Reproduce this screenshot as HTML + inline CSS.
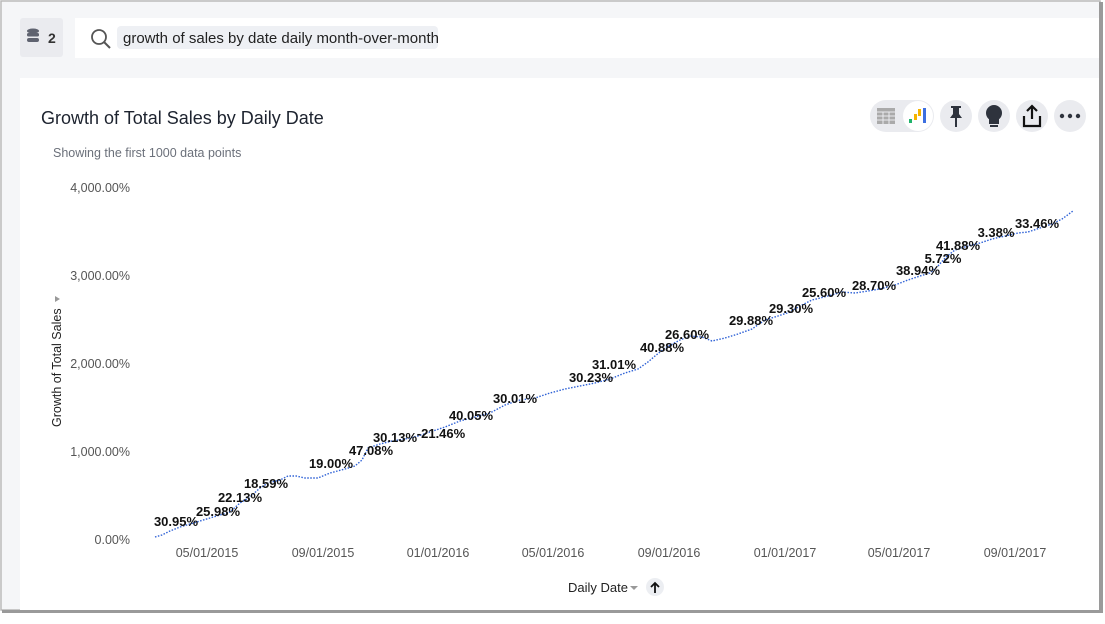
<!DOCTYPE html>
<html><head><meta charset="utf-8">
<style>
html,body{margin:0;padding:0;background:#fff;}
body{width:1105px;height:619px;overflow:hidden;font-family:"Liberation Sans",sans-serif;}
</style></head>
<body>
<svg width="1105" height="619" viewBox="0 0 1105 619" xmlns="http://www.w3.org/2000/svg" font-family="Liberation Sans, sans-serif">
<rect x="0" y="0" width="1105" height="619" fill="#fff"/>
<rect x="2" y="2" width="1097" height="608" fill="#f5f6f8"/>
<rect x="1" y="1" width="1099" height="609" fill="none" stroke="#b8b8b8" stroke-width="1.5"/>
<rect x="1099" y="2" width="4" height="611" fill="#9a9a9a"/>
<rect x="2" y="610" width="1101" height="3" fill="#9a9a9a"/>
<rect x="20" y="18" width="43" height="39" rx="3" fill="#eaebef"/>
<g fill="#5f6370">
<ellipse cx="33" cy="31" rx="6" ry="2.5"/>
<rect x="27" y="33" width="12" height="3.5" rx="1.5"/>
<rect x="27" y="38" width="12" height="4" rx="2"/>
</g>
<text x="48" y="43" font-size="14" font-weight="bold" fill="#333">2</text>
<rect x="75" y="18" width="1024" height="40" fill="#fff"/>
<circle cx="99" cy="37" r="7" fill="none" stroke="#555" stroke-width="1.8"/>
<line x1="104" y1="42" x2="110" y2="48" stroke="#555" stroke-width="2"/>
<rect x="117" y="26" width="321" height="23" rx="4" fill="#eef0f4"/>
<text x="123" y="43" font-size="15" fill="#222">growth of sales by date daily month-over-month</text>
<rect x="20" y="78" width="1079" height="532" fill="#fff"/>
<text x="41" y="124" font-size="18" fill="#1d232f">Growth of Total Sales by Daily Date</text>
<text x="53" y="157" font-size="12.5" fill="#6b707a">Showing the first 1000 data points</text>
<rect x="870" y="100" width="64" height="32" rx="16" fill="#eaebef"/>
<rect x="877" y="108" width="18" height="16" fill="#aaa"/>
<g stroke="#eaebef" stroke-width="1"><line x1="877" y1="112" x2="895" y2="112"/><line x1="877" y1="116" x2="895" y2="116"/><line x1="877" y1="120" x2="895" y2="120"/><line x1="883" y1="112" x2="883" y2="124"/><line x1="889" y1="112" x2="889" y2="124"/></g>
<circle cx="918" cy="116" r="15" fill="#fff"/>
<rect x="909" y="119" width="3" height="4" fill="#1fb36b"/>
<rect x="914" y="114" width="3" height="6" fill="#f5b400"/>
<rect x="918" y="109" width="3" height="7" fill="#f5b400"/>
<rect x="923" y="108" width="3" height="15" fill="#3d6fe0"/>
<circle cx="956" cy="116" r="16" fill="#eaebef"/>
<path d="M951 106h10v2h-2v6l3 4h-12l3-4v-6h-2z M955 118h2v9h-2z" fill="#2e333d"/>
<circle cx="994" cy="116" r="16" fill="#eaebef"/>
<circle cx="994" cy="113" r="8" fill="#2e333d"/>
<rect x="989" y="119" width="10" height="5" fill="#2e333d"/>
<rect x="990" y="125" width="8" height="2" fill="#2e333d"/>
<circle cx="1032" cy="116" r="16" fill="#eaebef"/>
<path d="M1024 116v10h16v-10" fill="none" stroke="#111" stroke-width="2.2"/>
<path d="M1032 119v-13M1027 111l5-5 5 5" fill="none" stroke="#111" stroke-width="2.2"/>
<circle cx="1070" cy="116" r="16" fill="#eaebef"/>
<g fill="#2e333d"><circle cx="1062" cy="116" r="2.2"/><circle cx="1070" cy="116" r="2.2"/><circle cx="1078" cy="116" r="2.2"/></g>
<g font-size="12.5" fill="#555" text-anchor="end">
<text x="130" y="192">4,000.00%</text>
<text x="130" y="280">3,000.00%</text>
<text x="130" y="368">2,000.00%</text>
<text x="130" y="456">1,000.00%</text>
<text x="130" y="544">0.00%</text>
</g>
<text transform="translate(61,427) rotate(-90)" font-size="12.5" fill="#222">Growth of Total Sales</text>
<path d="M55 296l5 3-5 3z" fill="#999"/>
<g font-size="12.5" fill="#555" text-anchor="middle">
<text x="207" y="557">05/01/2015</text>
<text x="323" y="557">09/01/2015</text>
<text x="438" y="557">01/01/2016</text>
<text x="553" y="557">05/01/2016</text>
<text x="669" y="557">09/01/2016</text>
<text x="785" y="557">01/01/2017</text>
<text x="899" y="557">05/01/2017</text>
<text x="1015" y="557">09/01/2017</text>
</g>
<text x="568" y="592" font-size="13" fill="#222">Daily Date</text>
<path d="M630 586l8 0-4 4z" fill="#999"/>
<circle cx="655" cy="587" r="9" fill="#eceef2"/>
<path d="M655 593v-10M651 587l4-4 4 4" fill="none" stroke="#111" stroke-width="1.8"/>
<polyline fill="none" stroke="#2f62d6" stroke-width="1.4" stroke-dasharray="1.5 1.5" points="155,537 162,535 170,531 180,527 190,524 200,521 210,518 220,515 230,512 240,503 250,497 260,488 268,483 280,480 288,476 296,476 305,478 318,478 330,473 345,469 355,466 362,460 368,448 380,444 392,441 405,439 418,436 430,432 445,427 460,421 475,417 490,413 505,405 520,400 535,398 550,393 565,389 580,386 595,383 610,379 625,373 638,369 648,362 655,356 665,348 680,340 690,336 702,337 712,341 725,338 738,334 752,329 765,320 778,316 790,312 800,306 812,300 828,296 842,292 855,293 868,291 880,289 895,285 908,280 920,276 930,273 938,266 946,257 955,250 968,246 980,243 992,239 1005,236 1018,233 1028,232 1040,228 1052,224 1062,219 1073,211"/>
<g font-size="13" font-weight="bold" fill="#111" text-anchor="middle">
<text x="176" y="526">30.95%</text>
<text x="218" y="516">25.98%</text>
<text x="240" y="502">22.13%</text>
<text x="266" y="488">18.59%</text>
<text x="331" y="468">19.00%</text>
<text x="371" y="455">47.08%</text>
<text x="395" y="442">30.13%</text>
<text x="441" y="438">-21.46%</text>
<text x="471" y="420">40.05%</text>
<text x="515" y="403">30.01%</text>
<text x="591" y="382">30.23%</text>
<text x="614" y="369">31.01%</text>
<text x="662" y="352">40.88%</text>
<text x="687" y="339">26.60%</text>
<text x="751" y="325">29.88%</text>
<text x="791" y="313">29.30%</text>
<text x="824" y="297">25.60%</text>
<text x="874" y="290">28.70%</text>
<text x="918" y="275">38.94%</text>
<text x="943" y="263">5.72%</text>
<text x="958" y="250">41.88%</text>
<text x="996" y="237">3.38%</text>
<text x="1037" y="228">33.46%</text>
</g>
</svg>
</body></html>
